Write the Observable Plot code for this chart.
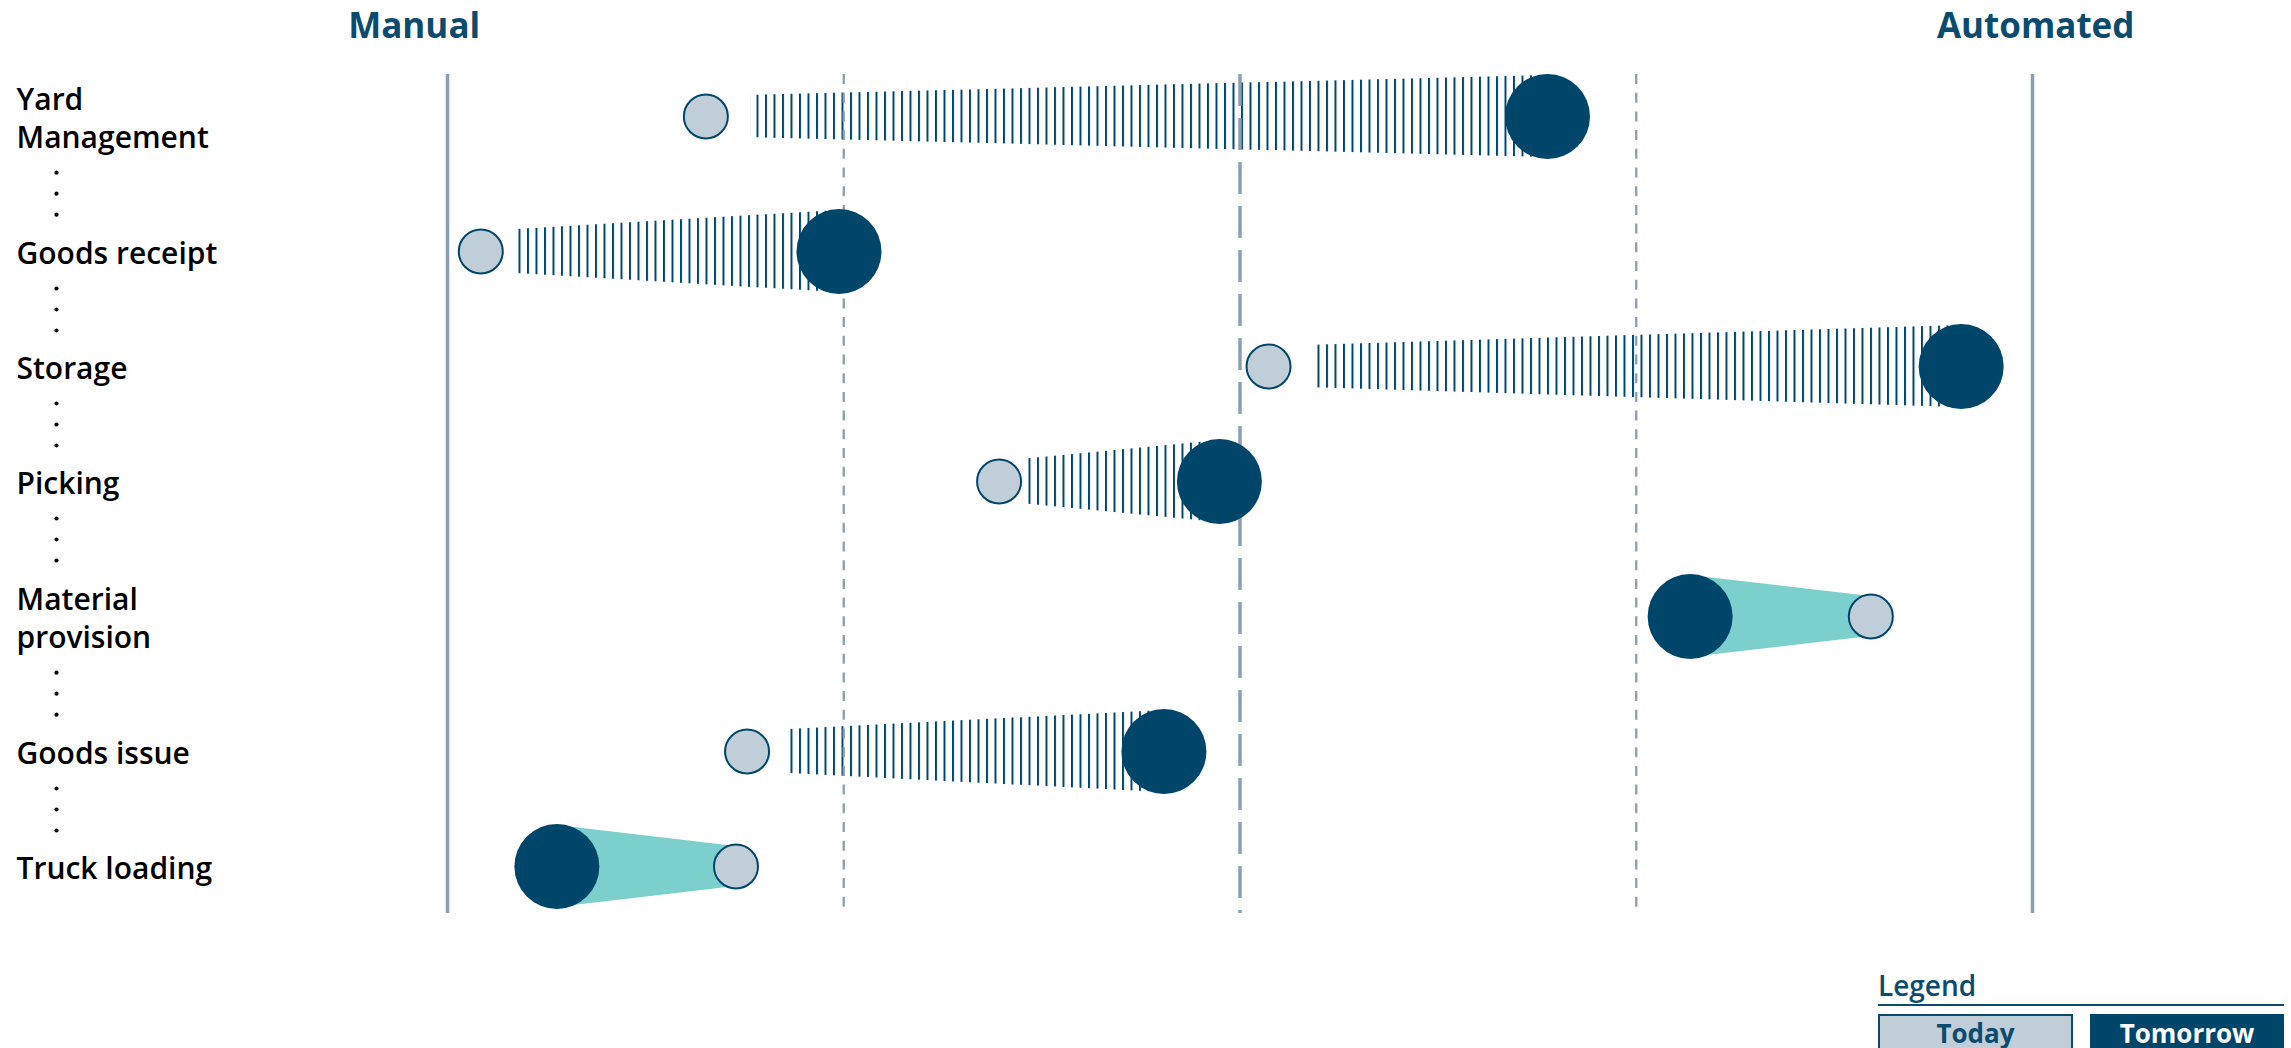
<!DOCTYPE html>
<html><head><meta charset="utf-8">
<script src="https://cdn.jsdelivr.net/npm/d3@7"></script>
<script src="https://cdn.jsdelivr.net/npm/@observablehq/plot@0.6"></script>
<style>
html,body{margin:0;padding:0;background:#fff;overflow:hidden;}
#wrap{position:relative;width:2291px;height:1048px;font-family:"Open Sans",sans-serif;}
#chart svg{display:block;}
.lg{position:absolute;box-sizing:border-box;}
</style></head><body>
<div id="wrap"><div id="chart"></div><div id="legend"></div></div>
<script>
// ---- data ----
const rowLabels = ["Yard\nManagement", "Goods receipt", "Storage", "Picking", "Material\nprovision", "Goods issue", "Truck loading"];
const todayValues = [16.3, 2.1, 51.8, 34.8, 89.8, 18.9, 18.2];
const tomorrowValues = [69.4, 24.7, 95.5, 48.7, 78.4, 45.2, 6.9];
const scaleEndLabels = ["Manual", "Automated"];
const scaleEndPositions = [-2.1, 100.2];
const gridEdges = [0, 100];
const gridQuarters = [25, 75];
const gridMiddle = [50];
const seriesNames = ["Today", "Tomorrow"];
const legendTitle = "Legend";

// ---- style ----
const DARK = "#00466a", LIGHT = "#c0ced9", TEAL = "#7bcfcd", GRID = "#8b9fb1", TITLE = "#0b4b6e";
const W = 2291, H = 960, mL = 447, mR = 259, mT = 74, mB = 47;
const pxPerUnit = (W - mL - mR) / 100;
const FONT = 30, LH = 1.28;
const ROW_GAP = 115, EXTRA = 20;
const rLight = 22, rDark = 42.5, hhL = 20, hhD = 41;

// ---- layout of rows (derived from label line counts) ----
let pos = 42, prevLines = 1;
const rows = rowLabels.map((label, i) => {
  const lines = label.split("\n").length;
  if (i > 0) pos += ROW_GAP + EXTRA * ((prevLines - 1) + (lines - 1));
  prevLines = lines;
  return {i, label, lines, pos, today: todayValues[i], tomorrow: tomorrowValues[i]};
});

// vertical ellipsis separators under each label except the last
const separators = [];
rows.slice(0, -1).forEach(d => {
  const base = d.pos + (d.lines - 1) * FONT * LH / 2;
  [37, 58, 79].forEach(off => separators.push({y: base + off}));
});

const hatch = [], cone = [];
rows.forEach(d => {
  if (d.tomorrow > d.today) {
    const lenPx = (d.tomorrow - d.today) * pxPerUnit;
    const offPx = Math.max(24, Math.min(45, 0.1 * lenPx));
    const t0 = offPx / lenPx;
    const x0 = d.today + t0 * (d.tomorrow - d.today);
    const h0 = hhL + (hhD - hhL) * t0;
    hatch.push({row: d.i, x: x0, y1: d.pos - h0, y2: d.pos + h0});
    hatch.push({row: d.i, x: d.tomorrow, y1: d.pos - hhD, y2: d.pos + hhD});
  } else {
    cone.push({row: d.i, x: d.tomorrow, y1: d.pos - hhD, y2: d.pos + hhD});
    cone.push({row: d.i, x: d.today, y1: d.pos - hhL, y2: d.pos + hhL});
  }
});
const ends = scaleEndLabels.map((label, i) => ({label, x: scaleEndPositions[i]}));

const svg = Plot.plot({
  width: W, height: H,
  marginLeft: mL, marginRight: mR, marginTop: mT, marginBottom: mB,
  x: {domain: [0, 100], axis: null},
  y: {domain: [0, H - mT - mB], reverse: true, axis: null},
  style: {fontFamily: "'Open Sans', sans-serif", overflow: "visible", background: "#fff"},
  marks: [
    Plot.areaY(cone, {x: "x", y1: "y1", y2: "y2", z: "row", fill: TEAL}),
    Plot.areaY(hatch, {x: "x", y1: "y1", y2: "y2", z: "row", fill: "url(#hatch)"}),
    Plot.ruleX(gridEdges, {stroke: GRID, strokeWidth: 3.5}),
    Plot.ruleX(gridQuarters, {stroke: GRID, strokeWidth: 2.3, strokeDasharray: "10,8.7"}),
    Plot.ruleX(gridMiddle, {stroke: GRID, strokeWidth: 3.5, strokeDasharray: "32,12"}),
    Plot.dot(rows, {x: "today", y: "pos", r: rLight, fill: LIGHT, stroke: DARK, strokeWidth: 2}),
    Plot.dot(rows, {x: "tomorrow", y: "pos", r: rDark, fill: DARK}),
    Plot.text(rows, {y: "pos", text: "label", frameAnchor: "left", dx: -431, textAnchor: "start",
      lineAnchor: "middle", lineHeight: LH, fontSize: FONT, fontWeight: 600, fill: "#000"}),
    Plot.dot(separators, {y: "y", frameAnchor: "left", dx: -391, r: 2.1, fill: "#000", stroke: "none"}),
    Plot.text(ends, {x: "x", text: "label", frameAnchor: "top", dy: -37, lineAnchor: "bottom",
      textAnchor: "middle", fontSize: 35, fontWeight: 700, fill: TITLE})
  ]
});
const defs = document.createElementNS("http://www.w3.org/2000/svg", "defs");
defs.innerHTML = `<pattern id="hatch" patternUnits="userSpaceOnUse" x="0" y="0" width="8.5" height="10"><rect x="0" y="0" width="2" height="10" fill="${DARK}"/></pattern>`;
svg.insertBefore(defs, svg.firstChild);
document.getElementById("chart").appendChild(svg);

// ---- legend (HTML, below the svg) ----
const lg = document.getElementById("legend");
lg.innerHTML = `
<div class="lg" style="left:1878px;top:971px;font-size:28px;line-height:28px;font-weight:600;color:${TITLE}">${legendTitle}</div>
<div class="lg" style="left:1878px;top:1003.5px;width:406px;height:2.5px;background:${TITLE}"></div>
<div class="lg" style="left:1878px;top:1014px;width:195px;height:50px;background:${LIGHT};border:2px solid ${TITLE};padding-top:4px;text-align:center;font-size:26px;line-height:26px;font-weight:700;color:${TITLE}">${seriesNames[0]}</div>
<div class="lg" style="left:2090px;top:1014px;width:194px;height:50px;background:${DARK};padding-top:6px;text-align:center;font-size:26px;line-height:26px;font-weight:700;color:#fff">${seriesNames[1]}</div>`;
</script>
</body></html>
